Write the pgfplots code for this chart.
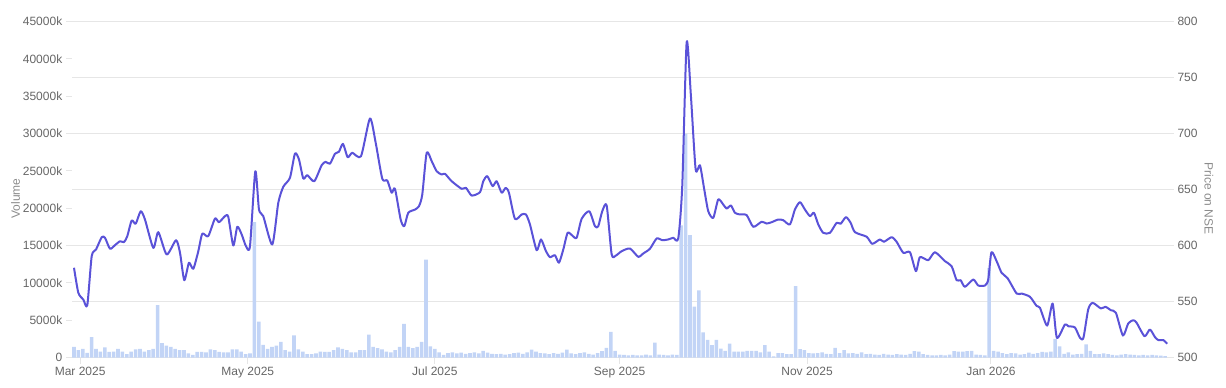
\documentclass[border=0pt]{standalone}
\usepackage{pgfplots}
\usepackage{pgfplotstable}
\pgfplotsset{compat=1.18}
\usepackage{fontspec}
\setmainfont{Liberation Sans}
\definecolor{linec}{RGB}{90,82,216}
\definecolor{barc}{RGB}{194,212,246}
\definecolor{gridc}{RGB}{230,230,230}
\definecolor{tickc}{RGB}{102,102,102}
\definecolor{titlec}{RGB}{140,140,140}

\pgfplotstableread{
i p
0 580.1
0.95 557.8
2.04 551.8
2.92 546.7
3.89 590.4
4.84 596.4
6.09 607.4
6.81 606.9
7.91 597.1
9.01 600.3
10.11 603.8
10.99 603.0
11.71 608.3
12.68 622.3
13.56 619.4
14.66 630.6
15.6 623.2
17.43 597.9
18.53 611.9
20.37 592.0
22.42 604.7
23.3 593.5
24.24 569.0
25.27 584.6
26.22 579.2
27.32 594.9
28.2 610.5
29.5 608.3
30.99 624.1
31.87 620.8
33.19 626.2
33.91 625.6
35.01 600.0
35.89 616.7
36.86 609.8
37.8 599.4
38.68 599.4
39.85 666.3
40.66 632.1
41.6 626.2
43.58 600.9
44.9 638.1
46.0 652.4
47.47 660.5
48.57 682.1
49.45 676.8
50.4 659.8
51.27 662.8
52.81 657.4
54.44 671.7
55.32 674.7
56.26 673.0
57.36 681.9
58.24 683.7
59.12 690.8
60.15 678.8
61.16 682.8
63.08 679.7
65.05 713.4
66.31 691.7
67.76 659.6
68.86 658.0
69.82 647.1
70.55 650.6
71.8 623.2
72.59 617.2
73.47 629.2
74.95 632.1
75.82 635.1
76.55 645.5
77.52 682.8
78.62 675.3
79.71 666.3
80.81 663.4
81.54 664.0
83.01 657.4
85.21 650.6
86.15 651.5
87.41 644.6
89.23 647.6
89.96 657.4
90.84 661.9
92.02 653.0
92.9 657.4
94.0 647.1
94.88 651.5
95.6 647.1
96.92 623.8
98.4 627.7
99.34 627.7
100.22 618.8
101.69 595.8
102.64 605.4
103.74 594.9
104.62 589.6
105.71 591.3
106.59 584.6
107.54 596.4
108.5 611.3
109.52 608.9
110.48 606.9
111.58 623.8
113.25 630.6
114.51 617.2
115.23 617.2
116.11 630.6
117.08 635.7
118.18 592.0
119.12 591.1
120.37 594.9
122.2 597.3
124.02 589.9
125.12 592.9
126.59 597.1
128.07 606.3
129.3 604.7
130.62 605.4
131.71 606.9
132.81 606.3
133.69 653.0
134.66 781.5
135.6 733.3
136.64 667.9
137.58 671.7
138.53 650.0
139.41 630.6
140.51 624.7
141.6 641.1
142.7 636.6
143.45 633.0
144.4 635.7
145.27 629.2
146.37 627.7
147.85 627.1
149.3 616.7
151.14 621.2
152.24 619.6
153.34 620.8
154.79 623.2
155.89 622.6
157.36 618.8
158.46 632.1
159.56 638.7
160.66 632.1
161.76 626.2
162.64 629.2
163.59 618.8
164.68 611.3
166.15 611.3
167.63 620.3
168.51 619.4
169.67 625.3
170.7 620.3
171.65 611.9
174.22 607.8
175.45 601.5
177.14 605.4
178.02 603.3
179.71 607.4
180.81 603.3
182.26 593.5
183.74 594.0
185.05 577.1
185.93 589.6
187.76 586.9
189.23 594.0
191.43 586.0
192.9 581.5
194.0 569.0
194.88 569.0
195.82 563.1
197.65 569.6
198.75 564.3
200.22 564.3
200.95 569.6
201.65 594.0
202.79 586.0
203.89 575.6
205.2 570.8
207.19 557.1
208.29 557.1
210.11 554.2
211.58 546.0
212.31 544.4
213.9 528.5
215.1 548.2
216.04 517.6
217.8 529.5
218.57 527.9
220.0 526.8
221.1 517.6
221.87 517.6
222.92 542.9
223.89 548.8
225.71 543.8
226.7 545.3
227.91 542.2
229.01 539.9
230.55 519.6
231.71 530.4
232.81 533.3
233.56 531.0
235.3 519.0
236.48 525.0
237.58 518.3
238.31 515.6
239.41 515.6
240.29 512.3
}\pricetable

\pgfplotstableread{
k v
0 1430
1 980
2 1160
3 630
4 2720
5 1160
6 800
7 1340
8 760
9 800
10 1160
11 800
12 450
13 800
14 1100
15 1160
16 800
17 980
18 1160
19 7000
20 1920
21 1590
22 1430
23 1160
24 980
25 980
26 540
27 360
28 760
29 760
30 670
31 1100
32 980
33 760
34 670
35 670
36 1100
37 1100
38 800
39 450
40 540
41 18120
42 4800
43 1700
44 1160
45 1430
46 1590
47 2100
48 980
49 800
50 2950
51 1100
52 800
53 450
54 450
55 540
56 800
57 760
58 760
59 980
60 1340
61 1160
62 980
63 670
64 670
65 980
66 980
67 3080
68 1430
69 1250
70 1100
71 800
72 670
73 980
74 1430
75 4500
76 1430
77 1250
78 1430
79 2100
80 13120
81 1500
82 1160
83 670
84 360
85 600
86 700
87 550
88 650
89 500
90 600
91 700
92 550
93 900
94 650
95 500
96 450
97 500
98 400
99 450
100 600
101 650
102 500
103 700
104 1070
105 800
106 600
107 550
108 450
109 600
110 500
111 650
112 1070
113 550
114 450
115 600
116 700
117 500
118 400
119 600
120 850
121 1300
122 3440
123 900
124 400
125 350
126 300
127 350
128 300
129 300
130 400
131 300
132 2000
133 400
134 350
135 300
136 400
137 350
138 17700
139 30000
140 16400
141 6800
142 9000
143 3350
144 2360
145 1650
146 2360
147 1200
148 890
149 1870
150 780
151 780
152 780
153 890
154 890
155 890
156 670
157 1650
158 780
159 150
160 600
161 600
162 450
163 450
164 9550
165 1120
166 1000
167 600
168 550
169 600
170 700
171 500
172 450
173 1300
174 600
175 1000
176 550
177 600
178 500
179 700
180 450
181 500
182 400
183 350
184 500
185 400
186 350
187 450
188 400
189 350
190 500
191 850
192 800
193 450
194 350
195 300
196 300
197 350
198 300
199 400
200 850
201 800
202 800
203 850
204 900
205 400
206 350
207 300
208 12000
209 900
210 800
211 600
212 450
213 600
214 550
215 400
216 450
217 650
218 500
219 600
220 750
221 700
222 800
223 2500
224 1500
225 500
226 700
227 400
228 450
229 500
230 1750
231 900
232 450
233 450
234 550
235 450
236 350
237 300
238 400
239 450
240 400
241 350
242 300
243 350
244 300
245 350
246 300
247 250
248 200
}\voltable

\begin{document}
\begin{tikzpicture}
\pgfplotsset{
  every axis/.append style={
    scale only axis, width=1096.2pt, height=336pt,
    xmin=-0.5, xmax=248.64,
    axis line style={draw=none},
    tick style={draw=gridc, line width=1pt},
    major tick length=6pt,
    tick align=outside,
    scaled y ticks=false,
    every tick label/.append style={font=\fontsize{12}{14}\selectfont, text=tickc},
    every axis label/.append style={font=\fontsize{12}{14}\selectfont, text=titlec},
  }
}
\begin{axis}[
  ymin=0, ymax=45000,
  ytick={0,5000,...,45000},
  yticklabels={0,5000k,10000k,15000k,20000k,25000k,30000k,35000k,40000k,45000k},
  ytick pos=left, xtick pos=bottom,
  xtick={1.4,39.5,82,124,166.6,208.4},
  xticklabels={Mar 2025,May 2025,Jul 2025,Sep 2025,Nov 2025,Jan 2026},
  minor ytick={0,7500,15000,22500,30000,37500,45000},
  minor tick length=0pt,
  yminorgrids=true,
  minor grid style={draw=gridc, line width=1pt},
  ylabel=Volume,
  ylabel shift=-4pt,
  ylabel style={at={(ticklabel cs:0.473)}},
]
\addplot[ybar, bar width=0.8, fill=barc, draw=none] table[x=k, y=v] {\voltable};
\end{axis}
\begin{axis}[
  ymin=500, ymax=800,
  ytick={500,550,...,800},
  yticklabels={500,550,600,650,700,750,800},
  ytick pos=right, yticklabel pos=right,
  hide x axis,
  ylabel={Price on NSE},
  ylabel near ticks,
  ylabel style={rotate=180, at={(ticklabel cs:0.473)}},
]
\addplot[linec, line width=2pt, smooth, tension=0.4, line join=round] table[x expr=\thisrow{i}*1.034, y=p] {\pricetable};
\end{axis}
\pgfresetboundingbox
\path (-71.8pt,-30.5pt) rectangle (1154.2pt,357.5pt);
\end{tikzpicture}
\end{document}
